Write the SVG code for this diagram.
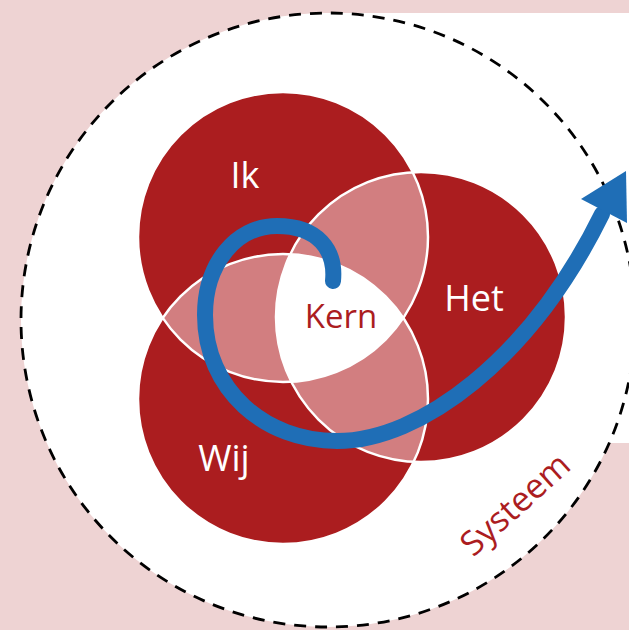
<svg xmlns="http://www.w3.org/2000/svg" width="629" height="630" viewBox="0 0 629 630">
  <style>
    .red { fill: #ab1d1f; }
    .pink { fill: #d27e80; }
    .outline { fill: none; stroke: #ffffff; stroke-width: 2.5; }
    .lbl { font-family: "Open Sans", "Liberation Sans", sans-serif; fill: #ffffff; text-anchor: middle; }
    .rlbl { font-family: "Open Sans", "Liberation Sans", sans-serif; fill: #ab1d1f; text-anchor: middle; }
  </style>
  <defs>
    <clipPath id="cIk"><circle cx="283" cy="237" r="145"/></clipPath>
    <clipPath id="cWij"><circle cx="283" cy="399" r="145"/></clipPath>
    <clipPath id="cHet"><circle cx="421" cy="317" r="145"/></clipPath>
  </defs>

  <!-- background -->
  <rect x="0" y="0" width="629" height="630" fill="#eed3d3"/>
  <rect x="328" y="13" width="301" height="430" fill="#ffffff"/>

  <g id="systeem">
    <circle cx="328" cy="320" r="307" fill="#ffffff" stroke="#000000" stroke-width="2.8" stroke-dasharray="12 9"/>
    <text class="rlbl" font-size="34" transform="translate(523 513) rotate(-42)">Systeem</text>
  </g>

  <g id="ik">
    <circle class="red" cx="283" cy="237" r="145"/>
    <text class="lbl" x="245" y="188" font-size="36">Ik</text>
  </g>
  <g id="wij">
    <circle class="red" cx="283" cy="399" r="145"/>
    <text class="lbl" x="224" y="471" font-size="36">Wij</text>
  </g>
  <g id="het">
    <circle class="red" cx="421" cy="317" r="145"/>
    <text class="lbl" x="474" y="311" font-size="36">Het</text>
  </g>

  <g id="overlaps">
    <circle class="pink" cx="283" cy="399" r="145" clip-path="url(#cIk)"/>
    <circle class="pink" cx="421" cy="317" r="145" clip-path="url(#cIk)"/>
    <circle class="pink" cx="421" cy="317" r="145" clip-path="url(#cWij)"/>
    <g clip-path="url(#cIk)">
      <g clip-path="url(#cWij)">
        <circle cx="421" cy="317" r="145" fill="#ffffff"/>
      </g>
    </g>
    <circle class="outline" cx="283" cy="237" r="145"/>
    <circle class="outline" cx="283" cy="399" r="145"/>
    <circle class="outline" cx="421" cy="317" r="145"/>
  </g>

  <g id="kern">
    <text class="rlbl" x="341" y="328" font-size="33">Kern</text>
  </g>

  <g id="connectors">
    <path d="M 333 281 C 336 250, 318 226, 277 226 C 235 226, 205 265, 205 315 C 205 390, 265 441, 337 441 C 420 441, 530 360, 602 214" fill="none" stroke="#1f6eb6" stroke-width="16" stroke-linecap="round"/>
    <polygon points="626,171 581,199 627,223" fill="#1f6eb6"/>
  </g>
</svg>
